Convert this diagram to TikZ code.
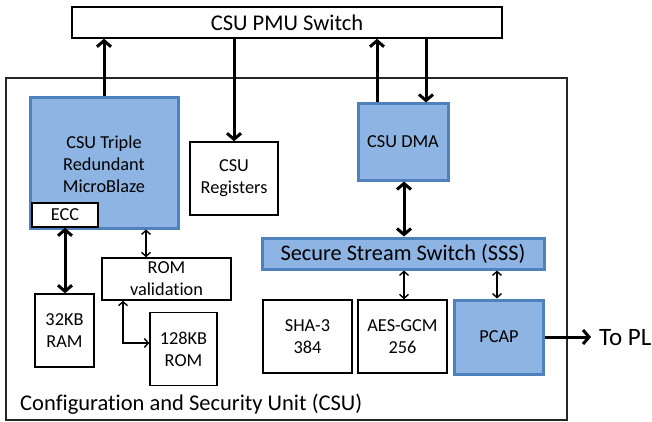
\documentclass[tikz,border=0pt]{standalone}
\usepackage{fontspec}
\setmainfont{Carlito}[RawFeature=-liga]
\usetikzlibrary{arrows.meta}
\definecolor{bfill}{RGB}{141,180,226}
\definecolor{bdraw}{RGB}{79,129,189}
\begin{document}
\begin{tikzpicture}[x=1pt,y=-1pt,
  box/.style={draw, line width=1.5pt, fill=white, inner sep=0pt, align=center, font=\fontsize{18.3}{22}\selectfont},
  bluebox/.style={box, fill=bfill, draw=bdraw, line width=3pt},
  bigarrow/.style={line width=3pt, -{Straight Barb[length=6pt,width=14pt,line width=3pt]}},
  bigboth/.style={line width=3pt, {Straight Barb[length=6pt,width=14pt,line width=3pt]}-{Straight Barb[length=6pt,width=14pt,line width=3pt]}},
  thinboth/.style={line width=1.4pt, {Straight Barb[length=4pt,width=9pt,line width=1.4pt]}-{Straight Barb[length=4pt,width=9pt,line width=1.4pt]}},
  lbl/.style={inner sep=0pt, font=\fontsize{22.5}{26}\selectfont}
]
\useasboundingbox (0,0) rectangle (652,422);
\node[draw=black!85, line width=1.3pt, minimum width=561pt, minimum height=342pt, inner sep=0pt] (csu) at (286.5,249) {};
\node[box, minimum width=430pt, minimum height=31pt, font=\fontsize{22.5}{26}\selectfont] (sw) at (287,22.5) {CSU PMU Switch};
\node[bluebox, minimum width=148pt, minimum height=130pt] (mb) at (104,163) {};
\node[align=center, inner sep=0pt, font=\fontsize{18.3}{22}\selectfont] (mbt) at (104,164) {CSU Triple\\Redundant\\MicroBlaze};
\node[box, minimum width=66pt, minimum height=24pt] (ecc) at (65,215) {ECC};
\node[box, minimum width=88pt, minimum height=73pt] (reg) at (234,178.5) {CSU\\Registers};
\node[bluebox, minimum width=90pt, minimum height=76pt] (dma) at (403,142) {CSU DMA};
\node[bluebox, minimum width=282pt, minimum height=31pt, font=\fontsize{22.3}{26}\selectfont] (sss) at (403,253.5) {Secure Stream Switch (SSS)};
\node[box, minimum width=89pt, minimum height=73pt] (sha) at (307.5,336.5) {SHA-3\\384};
\node[box, minimum width=89pt, minimum height=73pt] (aes) at (402.5,336.5) {AES-GCM\\256};
\node[bluebox, minimum width=89pt, minimum height=74pt] (pcap) at (499,337) {PCAP};
\node[box, minimum width=129pt, minimum height=42pt] (romv) at (166.5,279) {ROM\\validation};
\node[box, minimum width=59pt, minimum height=73pt] (ram) at (64.5,330.5) {32KB\\RAM};
\node[box, minimum width=67pt, minimum height=73pt] (rom) at (183.5,349) {128KB\\ROM};
\node[lbl, anchor=west] (cap) at (20,404) {Configuration and Security Unit (CSU)};
\node[lbl, anchor=west, font=\fontsize{25}{28}\selectfont] (topl) at (599,338) {To PL};
\coordinate (plend) at (591,337);
% connectors
\draw[bigarrow] (mb.north) -- (mb.north |- sw.south);
\draw[bigarrow] (sw.south -| reg.north) -- (reg.north);
\draw[bigarrow] ([xshift=-26pt]dma.north) -- ([xshift=-26pt]dma.north |- sw.south);
\draw[bigarrow] ([xshift=23pt]dma.north |- sw.south) -- ([xshift=23pt]dma.north);
\draw[bigboth] ([xshift=1pt]dma.south) -- ([xshift=1pt]dma.south |- sss.north);
\draw[thinboth] ([xshift=1.5pt]aes.north |- sss.south) -- ([xshift=1.5pt]aes.north);
\draw[thinboth] ([xshift=-2pt]pcap.north |- sss.south) -- ([xshift=-2pt]pcap.north);
\draw[bigarrow] (pcap.east) -- (plend);
\draw[bigboth] (ecc.south) -- (ecc.south |- ram.north);
\draw[thinboth] ([xshift=42pt]mb.south) -- ([xshift=42pt]mb.south |- romv.north);
\draw[thinboth] ([xshift=-43.5pt]romv.south) |- ([yshift=6pt]rom.west);
\end{tikzpicture}
\end{document}
